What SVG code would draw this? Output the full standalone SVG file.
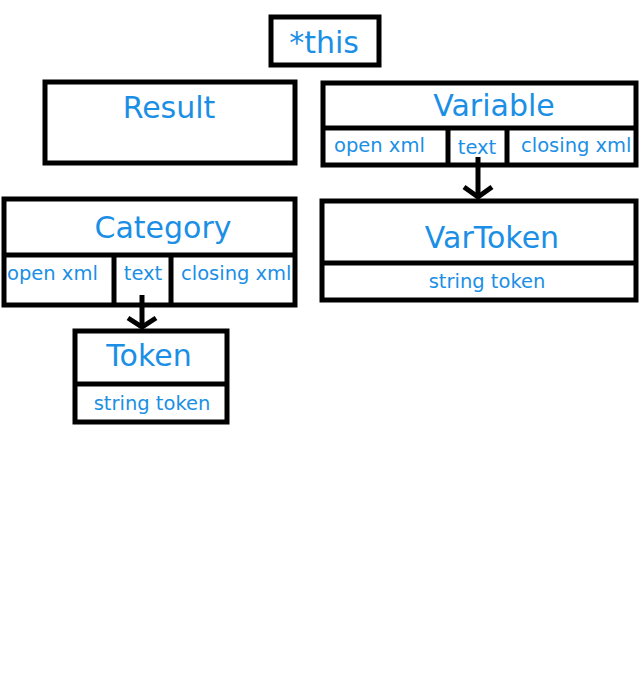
<svg xmlns="http://www.w3.org/2000/svg" width="640" height="700" viewBox="0 0 640 700">
<style>
.box{fill:#fff;stroke:#000;stroke-width:5}
.ln{stroke:#000;stroke-width:5;fill:none}
.t{font-family:"DejaVu Sans",sans-serif;fill:#1b8fe5}
.big{font-size:30px;text-anchor:middle}
.sm{font-size:19.5px}
.smc{font-size:19.5px;text-anchor:middle}
</style>
<rect width="640" height="700" fill="#fff"/>
<g id="this">
<rect class="box" x="271" y="17" width="108" height="48"/>
<text class="t big" x="324" y="53">*this</text>
</g>
<g id="result">
<rect class="box" x="45" y="82" width="250" height="81"/>
<text class="t big" x="169" y="118">Result</text>
</g>
<g id="variable">
<rect class="box" x="323" y="83" width="313" height="82"/>
<line class="ln" x1="323" y1="128" x2="636" y2="128"/>
<line class="ln" x1="448" y1="128" x2="448" y2="165"/>
<line class="ln" x1="507" y1="128" x2="507" y2="165"/>
<text class="t big" x="494" y="116">Variable</text>
<text class="t sm" x="334" y="152">open xml</text>
<text class="t smc" x="477" y="154">text</text>
<text class="t sm" x="521" y="152">closing xml</text>
</g>
<g id="category">
<rect class="box" x="4" y="199" width="291" height="106"/>
<line class="ln" x1="4" y1="255" x2="295" y2="255"/>
<line class="ln" x1="114" y1="255" x2="114" y2="305"/>
<line class="ln" x1="171" y1="255" x2="171" y2="305"/>
<text class="t big" x="163" y="238">Category</text>
<text class="t sm" x="7" y="280">open xml</text>
<text class="t smc" x="143" y="280">text</text>
<text class="t sm" x="181" y="280">closing xml</text>
</g>
<g id="vartoken">
<rect class="box" x="322" y="201" width="314" height="99"/>
<line class="ln" x1="322" y1="263" x2="636" y2="263"/>
<text class="t big" x="492" y="248">VarToken</text>
<text class="t smc" x="487" y="288">string token</text>
</g>
<g id="token">
<rect class="box" x="75" y="331" width="152" height="91"/>
<line class="ln" x1="75" y1="384" x2="227" y2="384"/>
<text class="t big" x="149" y="366">Token</text>
<text class="t smc" x="152" y="410">string token</text>
</g>
<g id="connectors">
<line class="ln" x1="478" y1="157" x2="478" y2="197"/>
<polyline class="ln" points="464,187 478,197 492,187"/>
<line class="ln" x1="142" y1="295" x2="142" y2="327"/>
<polyline class="ln" points="128,318 142,327 156,318"/>
</g>
</svg>
